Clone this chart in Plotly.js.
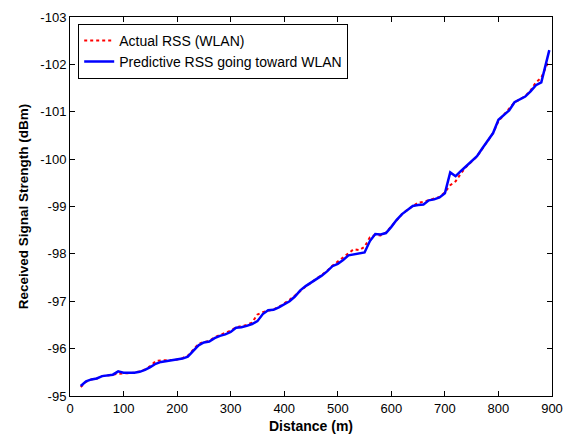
<!DOCTYPE html>
<html>
<head>
<meta charset="utf-8">
<script src="https://cdn.plot.ly/plotly-3.0.1.min.js"></script>
<style>html,body{margin:0;padding:0;background:#fff;}#chart{width:569px;height:437px;}</style>
</head>
<body>
<div id="chart"></div>
<script>
const distance = [20,30,40,50,60,70,80,90,100,110,120,130,140,150,160,170,180,190,200,210,220,230,240,250,260,270,280,290,300,310,320,330,340,350,360,370,380,390,400,410,420,430,440,450,460,470,480,490,500,510,520,530,540,550,560,570,580,590,600,610,620,630,640,650,660,670,680,690,700,710,720,730,740,750,760,770,780,790,800,810,820,830,840,850,860,870,880,890,895];

const actualRSS = [-95.19,-95.30,-95.35,-95.37,-95.42,-95.43,-95.45,-95.47,-95.48,-95.49,-95.49,-95.52,-95.56,-95.63,-95.74,-95.75,-95.75,-95.76,-95.77,-95.80,-95.85,-95.97,-96.10,-96.14,-96.16,-96.24,-96.29,-96.33,-96.38,-96.45,-96.48,-96.50,-96.55,-96.72,-96.77,-96.80,-96.83,-96.88,-96.95,-97.03,-97.12,-97.22,-97.31,-97.39,-97.47,-97.55,-97.64,-97.75,-97.84,-97.92,-98.03,-98.10,-98.08,-98.15,-98.35,-98.40,-98.39,-98.45,-98.58,-98.72,-98.84,-98.93,-99.01,-99.08,-99.10,-99.13,-99.16,-99.20,-99.30,-99.45,-99.53,-99.70,-99.84,-99.94,-100.06,-100.22,-100.38,-100.55,-100.80,-100.93,-101.05,-101.20,-101.26,-101.33,-101.45,-101.62,-101.72,-101.98,-102.05];

const predictedRSS = [-95.21,-95.31,-95.35,-95.37,-95.42,-95.43,-95.45,-95.52,-95.49,-95.49,-95.49,-95.51,-95.55,-95.61,-95.68,-95.72,-95.74,-95.75,-95.77,-95.79,-95.83,-95.94,-96.07,-96.13,-96.15,-96.22,-96.27,-96.30,-96.35,-96.44,-96.45,-96.48,-96.52,-96.58,-96.73,-96.81,-96.82,-96.87,-96.93,-97.00,-97.10,-97.23,-97.32,-97.39,-97.47,-97.54,-97.63,-97.74,-97.79,-97.87,-97.97,-97.99,-98.02,-98.03,-98.27,-98.42,-98.41,-98.44,-98.57,-98.72,-98.84,-98.93,-99.01,-99.03,-99.04,-99.13,-99.15,-99.19,-99.28,-99.72,-99.64,-99.75,-99.85,-99.94,-100.06,-100.23,-100.39,-100.55,-100.83,-100.94,-101.03,-101.20,-101.26,-101.32,-101.43,-101.56,-101.62,-102.10,-102.30];

const xTickVals = [0,100,200,300,400,500,600,700,800,900];
const yTickVals = [-95,-96,-97,-98,-99,-100,-101,-102,-103];
const yTickText = ['-95','-96','-97','-98','-99','-100','-101','-102','-103'];

const traces = [
  {x: distance, y: actualRSS, type: 'scatter', mode: 'lines', name: 'Actual RSS (WLAN)',
   line: {color: '#ff0000', width: 2, dash: 'dot'}},
  {x: distance, y: predictedRSS, type: 'scatter', mode: 'lines', name: 'Predictive RSS going toward WLAN',
   line: {color: '#0000ff', width: 2.5}}
];

const FONT = 'Liberation Sans, Arial, sans-serif';
const axisCommon = {
  showline: true, linecolor: '#000', linewidth: 1, mirror: 'ticks',
  ticks: 'inside', ticklen: 5, tickcolor: '#000', showgrid: false, zeroline: false,
  tickfont: {family: FONT, size: 13, color: '#000'}
};

const layout = {
  width: 569, height: 437,
  margin: {l: 70, r: 17, t: 17, b: 41},
  paper_bgcolor: '#fff', plot_bgcolor: '#fff',
  showlegend: true,
  xaxis: Object.assign({}, axisCommon, {range: [0, 900], tickvals: xTickVals,
    title: {text: '<b>Distance (m)</b>', standoff: 6, font: {family: FONT, size: 14, color: '#000'}}}),
  yaxis: Object.assign({}, axisCommon, {range: [-95, -103], tickvals: yTickVals, ticktext: yTickText,
    title: {text: '<b>Received Signal Strength (dBm)</b>', standoff: 8, font: {family: FONT, size: 13.5, color: '#000'}}}),
  legend: {x: 0.017, y: 0.982, xanchor: 'left', yanchor: 'top', bgcolor: '#fff', bordercolor: '#000', borderwidth: 1,
    font: {family: FONT, size: 14, color: '#000'}, tracegroupgap: 0}
};

Plotly.newPlot('chart', traces, layout, {displayModeBar: false, staticPlot: true});
</script>
</body>
</html>
